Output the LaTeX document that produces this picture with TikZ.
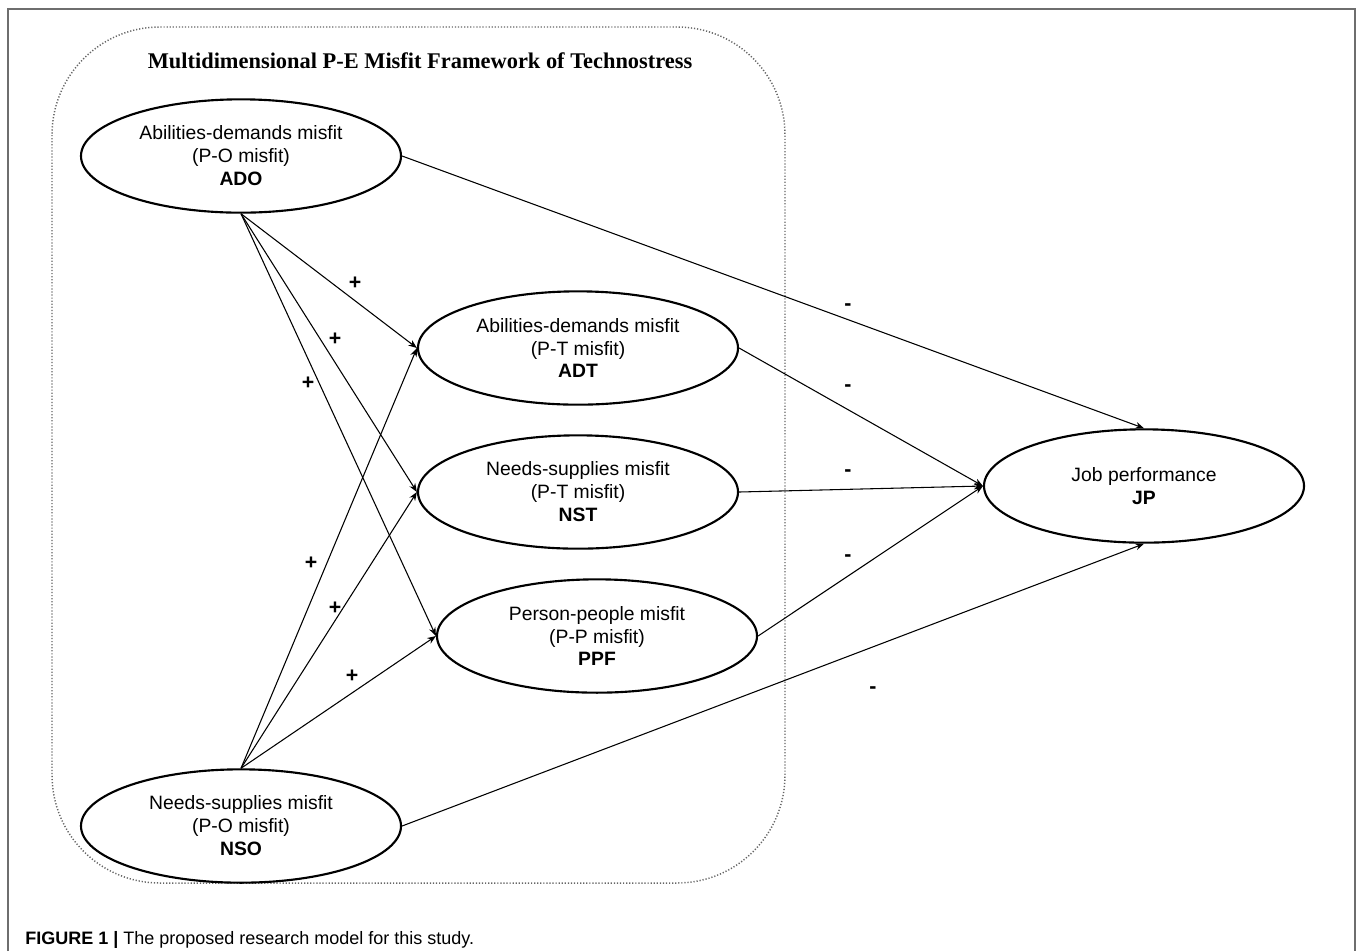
\documentclass[tikz,border=0pt]{standalone}
\usepackage{fontspec}
\setmainfont{Liberation Sans}
\newfontfamily\titlefont{Liberation Serif}
\usetikzlibrary{shapes.geometric,arrows.meta}
\definecolor{framegray}{HTML}{6E6E6E}
\definecolor{dotgray}{HTML}{666666}
\begin{document}
\begin{tikzpicture}[x=0.75pt,y=-0.75pt,
  latent/.style={ellipse, draw, line width=1.6pt, minimum width=240pt, minimum height=85pt,
    inner sep=0pt, align=center, font=\fontsize{14.5}{17.2}\selectfont},
  link/.style={line width=0.8pt, -{Stealth[length=6.5pt,width=5pt]}},
  sign/.style={font=\fontsize{16}{18}\selectfont\bfseries, inner sep=0pt}
]
\useasboundingbox (0,0) rectangle (1358,951);
% page frame
\draw[line width=1.5pt, color=framegray] (8,951) -- (8,9) -- (1355,9) -- (1355,951);
% dotted framework boundary
\draw[dotgray, line width=1.1pt, dash pattern=on 0.9pt off 1.4pt, rounded corners=81pt]
  (52,27) rectangle (785,883);
% title
\node[font=\titlefont\bfseries\fontsize{16.8}{20}\selectfont] (title) at (420,61)
  {Multidimensional P-E Misfit Framework of Technostress};
% constructs
\node[latent] (ADO) at (241,156) {Abilities-demands misfit\\(P-O misfit)\\\textbf{ADO}};
\node[latent] (NSO) at (241,826) {Needs-supplies misfit\\(P-O misfit)\\\textbf{NSO}};
\node[latent] (ADT) at (578,348) {Abilities-demands misfit\\(P-T misfit)\\\textbf{ADT}};
\node[latent] (NST) at (578,492) {Needs-supplies misfit\\(P-T misfit)\\\textbf{NST}};
\node[latent] (PPF) at (597,636) {Person-people misfit\\(P-P misfit)\\\textbf{PPF}};
\node[latent] (JP) at (1144,486) {Job performance\\\textbf{JP}};
% paths
\draw[link] (ADO.south) -- (ADT.west);
\draw[link] (ADO.south) -- (NST.west);
\draw[link] (ADO.south) -- (PPF.west);
\draw[link] (NSO.north) -- (ADT.west);
\draw[link] (NSO.north) -- (NST.west);
\draw[link] (NSO.north) -- (PPF.west);
\draw[link] (ADO.east) -- (JP.north);
\draw[link] (ADT.east) -- (JP.west);
\draw[link] (NST.east) -- (JP.west);
\draw[link] (PPF.east) -- (JP.west);
\draw[link] (NSO.east) -- (JP.south);
% signs
\node[sign] (s1) at (355,283) {+};
\node[sign] (s2) at (335,339) {+};
\node[sign] (s3) at (308,383) {+};
\node[sign] (s4) at (311,563) {+};
\node[sign] (s5) at (335,608) {+};
\node[sign] (s6) at (352,676) {+};
\node[sign] (m1) at (848,307) {-};
\node[sign] (m2) at (848,388) {-};
\node[sign] (m3) at (848,473) {-};
\node[sign] (m4) at (848,558) {-};
\node[sign] (m5) at (873,690) {-};
% caption
\node[anchor=base west, inner sep=0pt, font=\fontsize{13.5}{16}\selectfont] (cap) at (25,944)
  {\textbf{FIGURE 1 |} The proposed research model for this study.};
\end{tikzpicture}
\end{document}
